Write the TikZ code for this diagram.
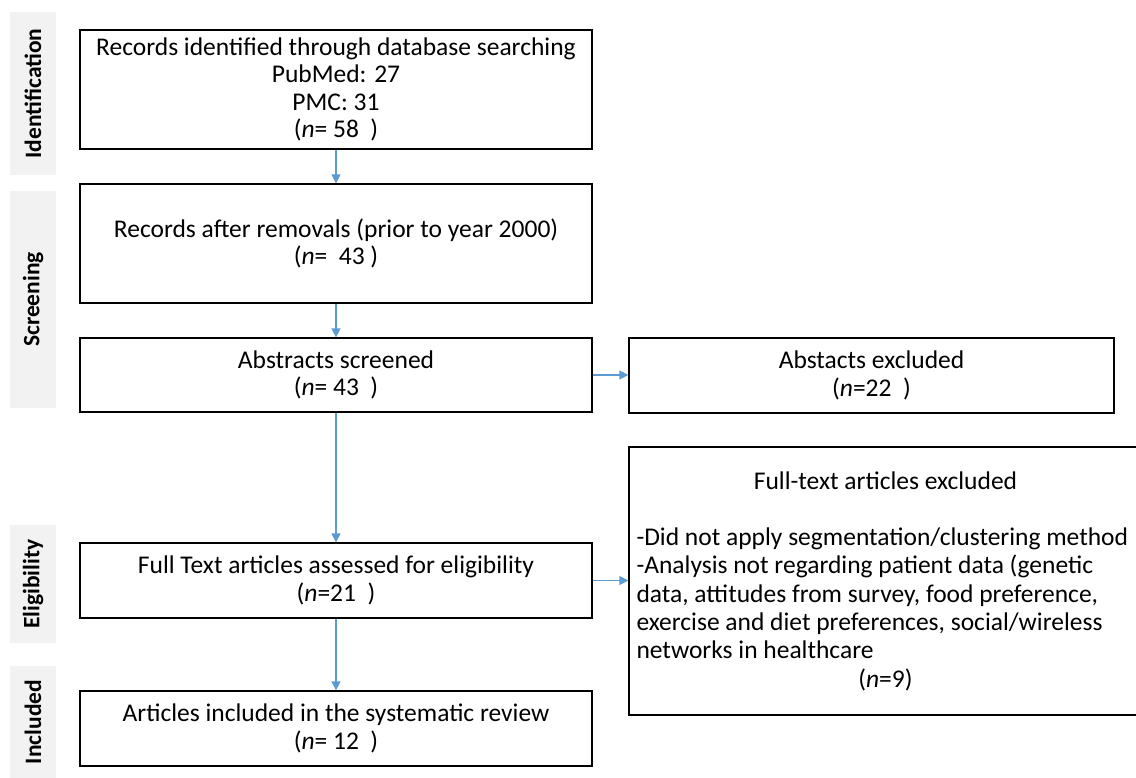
\documentclass[tikz,border=0pt]{standalone}
\usepackage{fontspec}
\setmainfont{Carlito}
\usetikzlibrary{arrows.meta}
\definecolor{flowblue}{RGB}{91,155,213}
\definecolor{phasegrey}{RGB}{242,242,242}

\begin{document}
\begin{tikzpicture}[x=1pt,y=-1pt,
  box/.style={draw=black, line width=1.3pt, inner sep=0pt, align=flush center,
    font=\fontsize{25.5}{27.5}\selectfont},
  phase/.style={fill=phasegrey, rotate=90, inner sep=0pt, minimum height=46pt,
    font=\fontsize{23.5}{25}\selectfont\bfseries},
  flow/.style={draw=flowblue, line width=1.3pt, -{Triangle[length=9pt,width=9pt]}}]
\useasboundingbox (0,0) rectangle (1136,777);

% phase labels down the left side
\node[phase, minimum width=163pt] (pid) at (33,93.5) {Identification};
\node[phase, minimum width=217pt] (psc) at (33,299.5) {Screening};
\node[phase, minimum width=118pt] (pel) at (33,584) {Eligibility};
\node[phase, minimum width=112pt] (pin) at (33,722) {Included};

% main column
\node[box, minimum width=512pt, minimum height=119pt] (b1) at (336,89.5)
  {Records identified through database searching\\PubMed: 27\\PMC: 31\\(\textit{n}= 58\ \ )};
\node[box, minimum width=512pt, minimum height=119pt] (b2) at (336,243.5)
  {Records after removals (prior to year 2000)\\(\textit{n}=\ \ 43 )};
\node[box, minimum width=512pt, minimum height=74pt] (b3) at (336,375)
  {Abstracts screened\\(\textit{n}= 43\ \ )};
\node[box, minimum width=512pt, minimum height=75pt] (b4) at (336,580.5)
  {Full Text articles assessed for eligibility\\(\textit{n}=21\ \ )};
\node[box, minimum width=512pt, minimum height=75pt] (b5) at (336,728.5)
  {Articles included in the systematic review\\(\textit{n}= 12\ \ )};

% exclusion boxes
\node[box, minimum width=485pt, minimum height=75pt] (ab) at (871.5,375.5)
  {Abstacts excluded\\(\textit{n}=22\ \ )};
\node[box, minimum width=513pt, minimum height=268pt, text width=498pt, align=flush left,
  font=\fontsize{25.5}{28.3}\selectfont] (ft) at (885.5,581)
  {\makebox[498pt]{Full-text articles excluded}\\
   \mbox{}\\
   -Did not apply segmentation/clustering method\\
   -Analysis not regarding patient data (genetic\\
   data, attitudes from survey, food preference,\\
   exercise and diet preferences, social/wireless\\
   networks in healthcare\\
   \makebox[498pt]{(\textit{n}=9)}};

% connectors
\draw[flow] (b1.south) -- (b2.north);
\draw[flow] (b2.south) -- (b3.north);
\draw[flow] (b3.south) -- (b4.north);
\draw[flow] (b4.south) -- (b5.north);
\draw[flow] (b3.east) -- (b3.east -| ab.west);
\draw[flow] (b4.east) -- (b4.east -| ft.west);
\end{tikzpicture}
\end{document}
